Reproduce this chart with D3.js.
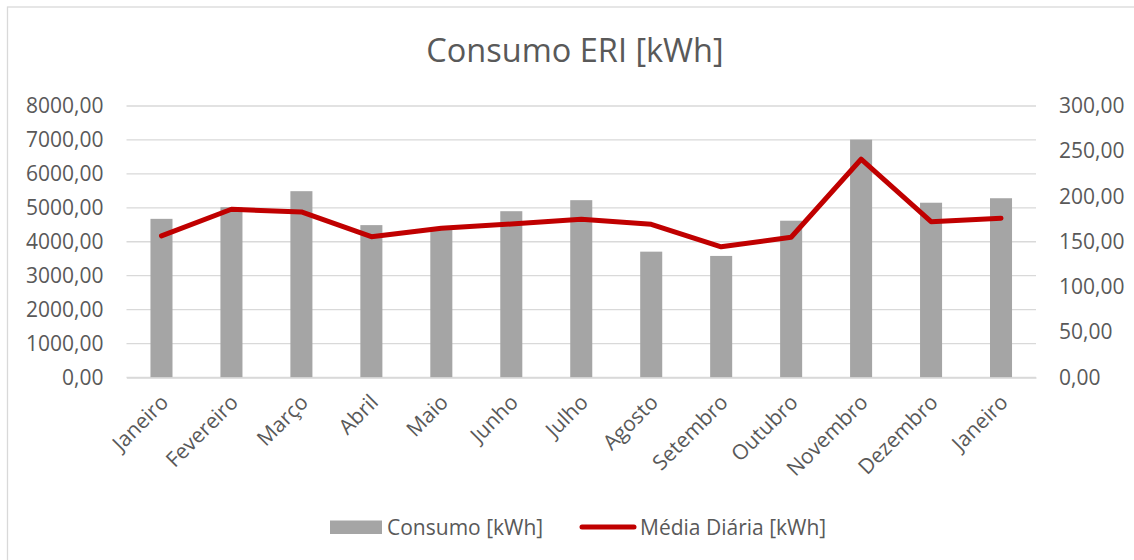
<!DOCTYPE html>
<html>
<head>
<meta charset="utf-8">
<script src="https://cdn.jsdelivr.net/npm/d3@7"></script>
<style>
  body { margin: 0; background: #fff; }
  svg { display: block; font-family: "Open Sans", sans-serif; }
</style>
</head>
<body>
<div id="chart"></div>
<script>
const months = ["Janeiro", "Fevereiro", "Março", "Abril", "Maio", "Junho", "Julho",
  "Agosto", "Setembro", "Outubro", "Novembro", "Dezembro", "Janeiro"];
const consumo = [4675, 5020, 5490, 4490, 4370, 4900, 5225, 3708, 3582, 4620, 7010, 5150, 5282];
const mediaDiaria = [156.4, 185.9, 182.9, 155.6, 164.8, 169.6, 174.8, 169.3, 144.4, 155.0, 241.2, 172.2, 176.1];
const leftTicks = [0, 1000, 2000, 3000, 4000, 5000, 6000, 7000, 8000];
const rightTicks = [0, 50, 100, 150, 200, 250, 300];

const width = 1134, height = 560;
const plot = { left: 126.5, right: 1036, top: 106, bottom: 377.5 };
const textColor = "#595959";
const fontSize = 21;
const fmt = v => d3.format(".2f")(v).replace(".", ",");

const svg = d3.select("#chart").append("svg")
  .attr("width", width)
  .attr("height", height);

// chart frame
svg.append("rect")
  .attr("x", 7.5).attr("y", 7)
  .attr("width", width + 10).attr("height", height + 10)
  .attr("fill", "none")
  .attr("stroke", "#d9d9d9")
  .attr("stroke-width", 1.3);

svg.append("text")
  .attr("x", 575).attr("y", 62)
  .attr("text-anchor", "middle")
  .attr("font-size", 32.5)
  .attr("fill", textColor)
  .text("Consumo ERI [kWh]");

const x = d3.scaleBand()
  .domain(d3.range(months.length))
  .range([plot.left, plot.right])
  .paddingInner(0.685)
  .paddingOuter(0.3425);

const yL = d3.scaleLinear().domain([0, 8000]).range([plot.bottom, plot.top]);
const yR = d3.scaleLinear().domain([0, 300]).range([plot.bottom, plot.top]);

// gridlines
svg.append("g")
  .selectAll("line")
  .data(leftTicks)
  .join("line")
  .attr("x1", plot.left).attr("x2", plot.right)
  .attr("y1", d => yL(d)).attr("y2", d => yL(d))
  .attr("stroke", "#d9d9d9")
  .attr("stroke-width", 1.3);

// left axis
const axL = svg.append("g")
  .attr("transform", `translate(${plot.left - 23},0)`)
  .call(d3.axisLeft(yL).tickValues(leftTicks).tickFormat(fmt).tickSize(0));
axL.select(".domain").remove();
axL.selectAll("text")
  .attr("x", 0)
  .attr("font-family", "Open Sans, sans-serif")
  .attr("font-size", fontSize)
  .attr("fill", textColor);

// right axis
const axR = svg.append("g")
  .attr("transform", `translate(${plot.right + 23},0)`)
  .call(d3.axisRight(yR).tickValues(rightTicks).tickFormat(fmt).tickSize(0));
axR.select(".domain").remove();
axR.selectAll("text")
  .attr("x", 0)
  .attr("font-family", "Open Sans, sans-serif")
  .attr("font-size", fontSize)
  .attr("fill", textColor);

// bars
svg.append("g")
  .selectAll("rect")
  .data(consumo)
  .join("rect")
  .attr("x", (d, i) => x(i))
  .attr("y", d => yL(d))
  .attr("width", x.bandwidth())
  .attr("height", d => yL(0) - yL(d))
  .attr("fill", "#a5a5a5");

// x axis labels
const axX = svg.append("g")
  .attr("transform", `translate(0,${plot.bottom})`)
  .call(d3.axisBottom(x).tickFormat(i => months[i]).tickSize(0));
axX.select(".domain")
  .attr("stroke", "#d9d9d9")
  .attr("stroke-width", 1.3);
axX.selectAll("text")
  .attr("font-family", "Open Sans, sans-serif")
  .attr("font-size", fontSize)
  .attr("fill", textColor)
  .attr("text-anchor", "end")
  .attr("dy", 0)
  .attr("transform", "translate(6,24) rotate(-45)");

// line
const line = d3.line()
  .x((d, i) => x(i) + x.bandwidth() / 2)
  .y(d => yR(d));

svg.append("path")
  .datum(mediaDiaria)
  .attr("d", line)
  .attr("fill", "none")
  .attr("stroke", "#c00000")
  .attr("stroke-width", 5)
  .attr("stroke-linejoin", "round")
  .attr("stroke-linecap", "round");

// legend
const legend = svg.append("g").attr("font-size", fontSize).attr("fill", textColor);
legend.append("rect")
  .attr("x", 330).attr("y", 520.5)
  .attr("width", 52).attr("height", 13.5)
  .attr("fill", "#a5a5a5");
legend.append("text")
  .attr("x", 387).attr("y", 534.5)
  .text("Consumo [kWh]");
legend.append("line")
  .attr("x1", 582).attr("x2", 634)
  .attr("y1", 527).attr("y2", 527)
  .attr("stroke", "#c00000")
  .attr("stroke-width", 5)
  .attr("stroke-linecap", "round");
legend.append("text")
  .attr("x", 640).attr("y", 534.5)
  .text("Média Diária [kWh]");
</script>
</body>
</html>
